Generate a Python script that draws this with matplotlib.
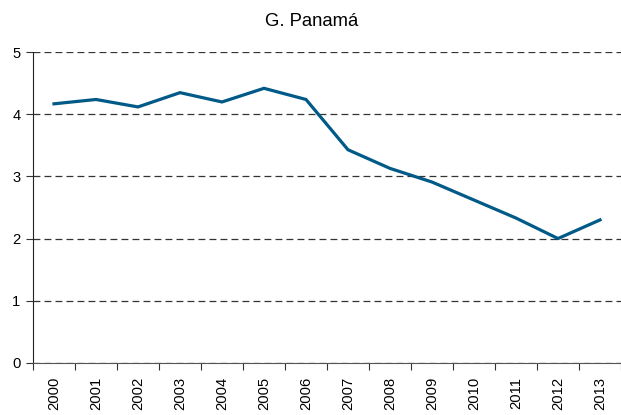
import matplotlib.pyplot as plt
import numpy as np

plt.rcParams['font.family'] = ['Liberation Sans', 'DejaVu Sans']

years = ['2000', '2001', '2002', '2003', '2004', '2005', '2006',
         '2007', '2008', '2009', '2010', '2011', '2012', '2013']
values = [4.17, 4.24, 4.12, 4.35, 4.20, 4.42, 4.24,
          3.43, 3.13, 2.91, 2.62, 2.33, 2.00, 2.30]

fig = plt.figure(figsize=(6.21, 4.15), dpi=100)
ax = fig.add_axes([33 / 621, (415 - 362.7) / 415, 1 - 33 / 621, (362.7 - 52.3) / 415])

x = np.arange(len(years))
ax.plot(x, values, color='#005a87', linewidth=2.3, solid_joinstyle='miter')

ax.set_xlim(-0.5, len(years) - 0.5)
ax.set_ylim(0, 5)
ax.set_yticks(range(6))
ax.yaxis.grid(True, linestyle=(0, (5.5, 3.3)), color='#333333', linewidth=0.9)
ax.set_axisbelow(True)

# category boundaries carry the ticks, labels sit at the centres
ax.set_xticks(np.arange(-0.5, len(years), 1.0))
ax.set_xticklabels([])
ax.set_xticks(x, minor=True)
ax.set_xticklabels(years, minor=True, rotation=90, fontsize=10.6)
ax.tick_params(axis='x', which='major', length=5, direction='out', color='#333333')
ax.tick_params(axis='x', which='minor', length=0, pad=10)
ax.tick_params(axis='y', length=5, labelsize=10.6, color='#333333', pad=4)

ax.spines['top'].set_visible(False)
ax.spines['right'].set_visible(False)
ax.spines['left'].set_color('#222222')
ax.spines['bottom'].set_color('#555555')

fig.text(312 / 621, 1 - 21.5 / 415, 'G. Panamá', ha='center', va='center', fontsize=13.3)

fig.savefig('out.png', dpi=100)
